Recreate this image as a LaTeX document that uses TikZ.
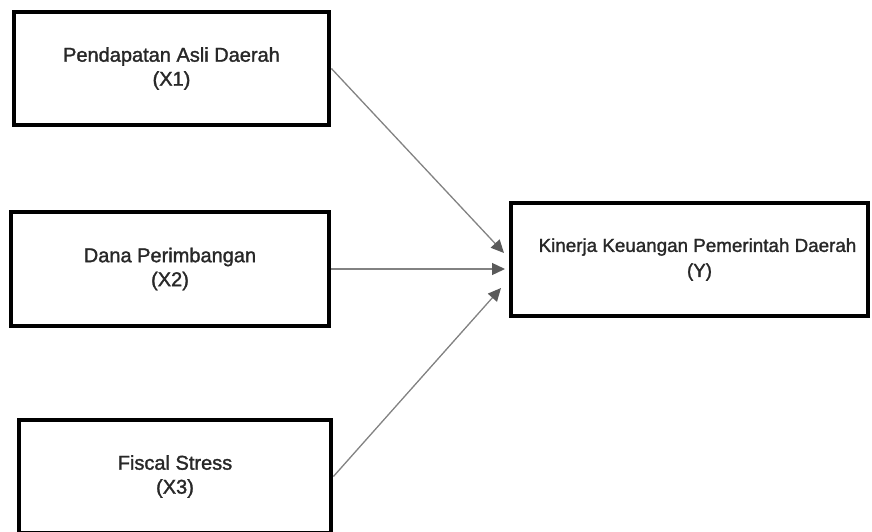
\documentclass[tikz,border=0pt]{standalone}
\usepackage{fontspec}
\setmainfont{Liberation Sans}
\newfontfamily\boxfont[FakeBold=1.5]{Liberation Sans}
\usetikzlibrary{arrows.meta,positioning}
\definecolor{edgeGray}{RGB}{130,130,130}
\definecolor{tipGray}{RGB}{90,90,90}
\definecolor{textDark}{RGB}{40,40,40}

\begin{document}
\begin{tikzpicture}[x=1pt,y=-1pt,
  varbox/.style={rectangle,draw=black,line width=4.8pt,fill=white,
                 minimum width=315pt,minimum height=113pt,align=center,
                 text=textDark,font=\boxfont\fontsize{20}{24}\selectfont},
  arrow/.style={-{Triangle[length=13pt,width=12pt,color=tipGray]},line width=1.3pt,edgeGray}
]
  \useasboundingbox (0,0) rectangle (872,531);
  \node[varbox](x1) at (171.5,68.5) {Pendapatan Asli Daerah\\(X1)};
  \node[varbox,minimum width=318pt,minimum height=114pt](x2) at (170,269) {Dana Perimbangan\\(X2)};
  \node[varbox,minimum width=312pt](x3) at (175,476.5) {Fiscal Stress\\(X3)};
  \node[varbox,minimum width=357pt,font=\boxfont\fontsize{18.8}{25}\selectfont](y) at (689.5,259.5)
    {\hspace*{16pt}Kinerja Keuangan Pemerintah Daerah\\\hspace*{20pt}(Y)};
  \coordinate (in1) at (504,253);
  \coordinate (in2) at (505,269);
  \coordinate (in3) at (501,288);
  \draw[arrow](x1.east)--(in1);
  \draw[arrow](x2.east)--(in2);
  \draw[arrow](x3.east)--(in3);
\end{tikzpicture}
\end{document}
